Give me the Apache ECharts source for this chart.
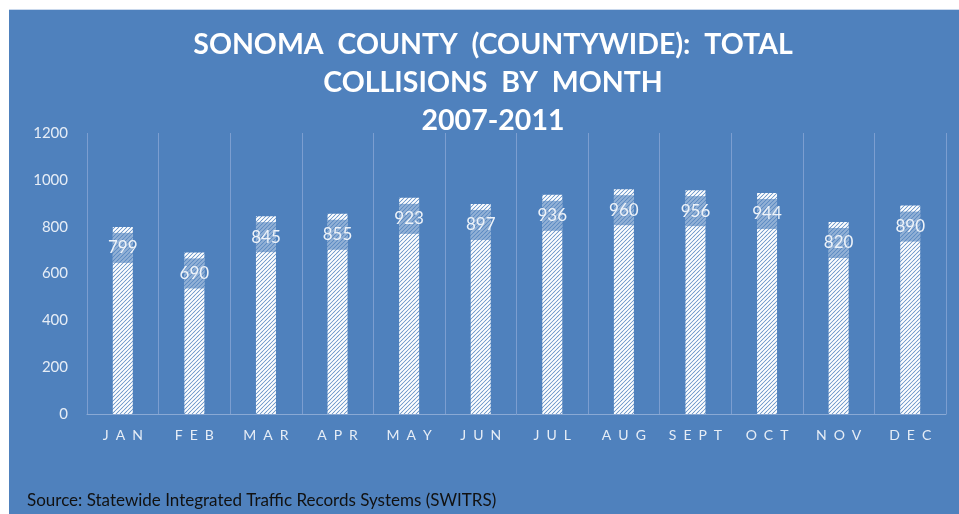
<!DOCTYPE html>
<html><head><meta charset="utf-8">
<script src="https://cdn.jsdelivr.net/npm/echarts@6/dist/echarts.min.js"></script>
<style>html,body{margin:0;padding:0;background:#fff;}#c{width:959px;height:514px;}</style>
</head><body><div id="c"></div>
<script>
const months = ['JAN','FEB','MAR','APR','MAY','JUN','JUL','AUG','SEPT','OCT','NOV','DEC'];
const collisions = [799, 690, 845, 855, 923, 897, 936, 960, 956, 944, 820, 890];
const titleLines = ['SONOMA  COUNTY  (COUNTYWIDE):  TOTAL', 'COLLISIONS  BY  MONTH', '2007-2011'];
const sourceText = 'Source: Statewide Integrated Traffic Records Systems (SWITRS)';

const BG = '#4F81BD';
const pc = document.createElement('canvas');
pc.width = 4; pc.height = 4;
const g = pc.getContext('2d');
g.fillStyle = '#5a89c2'; g.fillRect(0,0,4,4);
g.strokeStyle = '#ffffff'; g.lineWidth = 2;
g.beginPath();
g.moveTo(-1,5); g.lineTo(5,-1);
g.moveTo(-1,1); g.lineTo(1,-1);
g.moveTo(3,5); g.lineTo(5,3);
g.stroke();

const chart = echarts.init(document.getElementById('c'), null, {renderer:'canvas'});
chart.setOption({
  backgroundColor: 'transparent',
  animation: false,
  graphic: [
    {type:'rect', z:-10, silent:true, shape:{x:9,y:9,width:950,height:505}, style:{fill:BG}},
    {type:'line', z:-9, silent:true, shape:{x1:9,y1:9.5,x2:959,y2:9.5}, style:{stroke:'#c9d8ec',lineWidth:1}},
    {type:'text', x:493, y:26, style:{text:titleLines.join('\n'), fill:'#ffffff', font:'bold 28.5px Lato, "Open Sans", sans-serif', lineHeight:38, align:'center', verticalAlign:'top'}},
    {type:'text', left:27, top:492, style:{text:sourceText, fill:'#111', font:'17px Lato, "Open Sans", sans-serif'}}
  ],
  grid: {left:87, right:13, top:133, bottom:100, containLabel:false},
  xAxis: {
    type:'category', data: months,
    axisTick:{show:false},
    axisLine:{lineStyle:{color:'#8aa9d4', width:1}},
    splitLine:{show:true, lineStyle:{color:'#7c9ed0', width:1}},
    axisLabel:{color:'#e6edf6', fontSize:14, fontFamily:'Lato, "Open Sans", sans-serif', margin:14,
      formatter: v => v.split('').join('\u2002')}
  },
  yAxis: {
    type:'value', min:0, max:1200, interval:200,
    axisLine:{show:false}, axisTick:{show:false}, splitLine:{show:false},
    axisLabel:{color:'#e6edf6', fontSize:15, fontFamily:'Lato, "Open Sans", sans-serif', margin:19,
      formatter: v => String(v)}
  },
  series: [{
    type:'bar', data: collisions, barWidth:20,
    itemStyle:{color:{image:pc, repeat:'repeat'}},
    label:{show:true, position:'insideTop', distance:6, color:'#eef3f9',
      fontSize:17, fontFamily:'Lato, "Open Sans", sans-serif',
      backgroundColor:'rgba(79,129,189,0.62)', width:20, height:30, lineHeight:30,
      align:'center', overflow:'none'}
  }]
});
</script></body></html>
